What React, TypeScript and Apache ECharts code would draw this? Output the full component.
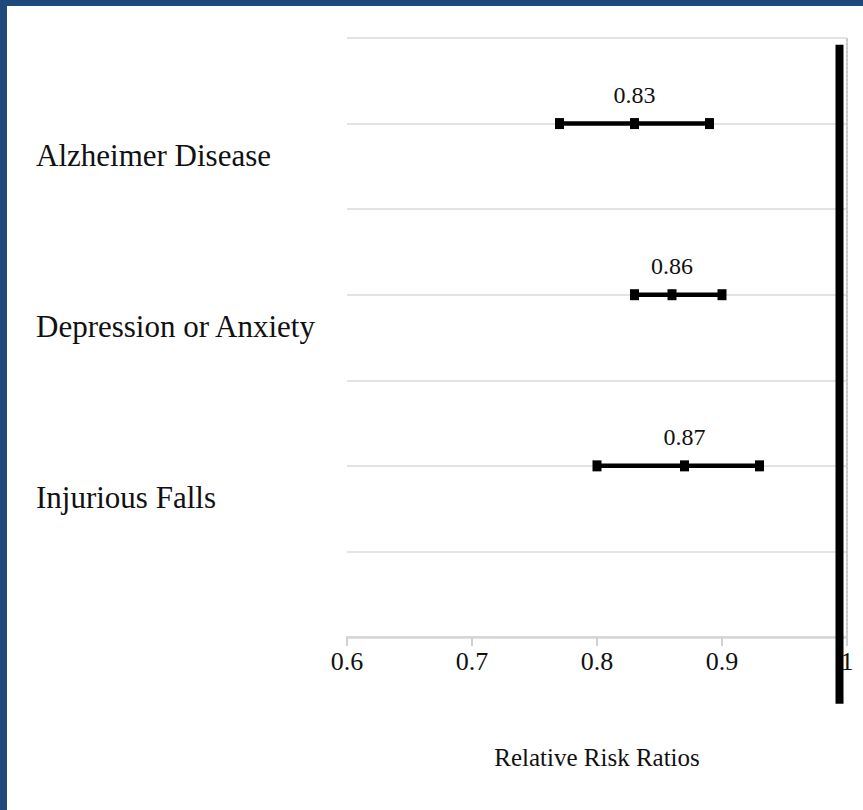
import React, { useEffect, useRef } from "react";
import * as echarts from "echarts";

// ---- Data ----
const categories = ["Alzheimer Disease", "Depression or Anxiety", "Injurious Falls"];
const estimates = [0.83, 0.86, 0.87];
const lowerBounds = [0.77, 0.83, 0.8];
const upperBounds = [0.89, 0.9, 0.93];
const xTicks = [0.6, 0.7, 0.8, 0.9, 1];
const axisTitle = "Relative Risk Ratios";
// reference (no-effect) line as drawn in the picture
const refLineX = 0.994;
const refLineYTop = 6.92;
const refLineYBottom = -0.78;

const FONT = "'Liberation Serif', 'Times New Roman', serif";
const TEXT = "#111111";
const BLUE = "#1F497D";

export default function App() {
  const ref = useRef<HTMLDivElement>(null);

  useEffect(() => {
    if (!ref.current) return;
    const chart = echarts.init(ref.current, undefined, { renderer: "svg" });
    const n = categories.length;
    // category i sits on gridline (n - i) * 2 of a 0..7 scale
    const yPos = categories.map((_, i) => (n - i) * 2);
    const labelAt: Record<number, string> = {};
    yPos.forEach((y, i) => (labelAt[y] = categories[i]));

    const series: any[] = categories.map((name, i) => ({
      type: "line",
      name,
      symbol: "rect",
      symbolSize: [9, 11],
      lineStyle: { color: "#000", width: 4.5 },
      itemStyle: { color: "#000" },
      data: [
        [lowerBounds[i], yPos[i]],
        {
          value: [estimates[i], yPos[i]],
          label: {
            show: true,
            position: "top",
            distance: 11,
            formatter: () => estimates[i].toFixed(2),
            fontFamily: FONT,
            fontSize: 24,
            color: TEXT,
          },
        },
        [upperBounds[i], yPos[i]],
      ],
    }));

    const option: any = {
      animation: false,
      backgroundColor: "#ffffff",
      grid: { left: 347, right: 16, top: 38, bottom: 173, containLabel: false },
      xAxis: {
        type: "value",
        min: xTicks[0],
        max: xTicks[xTicks.length - 1],
        interval: 0.1,
        name: axisTitle,
        nameLocation: "middle",
        nameGap: 108,
        nameTextStyle: { fontFamily: FONT, fontSize: 25, color: TEXT },
        axisLine: { show: true, lineStyle: { color: "#d6d6d6", width: 2.5 } },
        axisTick: { show: true, length: 9, lineStyle: { color: "#d0d0d0", width: 2 } },
        axisLabel: {
          fontFamily: FONT,
          fontSize: 26,
          color: TEXT,
          margin: 11,
          formatter: (v: number) => String(Math.round(v * 10) / 10),
        },
        splitLine: { show: false },
      },
      yAxis: [
        {
          type: "value",
          min: 0,
          max: 7,
          interval: 1,
          axisLine: { show: false },
          axisTick: { show: false },
          splitLine: { show: true, lineStyle: { color: "#e3e3e3", width: 2 } },
          axisLabel: {
            show: true,
            fontFamily: FONT,
            fontSize: 31,
            lineHeight: 31,
            color: TEXT,
            align: "left",
            verticalAlign: "top",
            padding: [16, 0, 0, 0],
            margin: 311,
            formatter: (v: number) => labelAt[v] || "",
          },
        },
        {
          type: "value",
          position: "right",
          min: 0,
          max: 7,
          interval: 1,
          axisLine: { show: true, lineStyle: { color: "#c8c8c8", width: 2, type: "dotted" } },
          axisTick: { show: false },
          axisLabel: { show: false },
          splitLine: { show: false },
        },
      ],
      series,
    };
    chart.setOption(option);

    const top = chart.convertToPixel({ xAxisIndex: 0, yAxisIndex: 0 }, [refLineX, refLineYTop]) as number[];
    const bottom = chart.convertToPixel({ xAxisIndex: 0, yAxisIndex: 0 }, [refLineX, refLineYBottom]) as number[];
    chart.setOption({
      graphic: [
        { type: "rect", left: 0, top: 0, shape: { width: 7, height: 810 }, style: { fill: BLUE }, z: 100 },
        { type: "rect", left: 0, top: 0, shape: { width: 863, height: 6 }, style: { fill: BLUE }, z: 100 },
        {
          type: "line",
          shape: { x1: top[0], y1: top[1], x2: bottom[0], y2: bottom[1] },
          style: { stroke: "#000", lineWidth: 8 },
          z: 50,
        },
      ],
    });

    return () => chart.dispose();
  }, []);

  return (
    <div
      ref={ref}
      style={{ position: "absolute", left: 0, top: 0, width: 863, height: 810, background: "#fff" }}
    />
  );
}
